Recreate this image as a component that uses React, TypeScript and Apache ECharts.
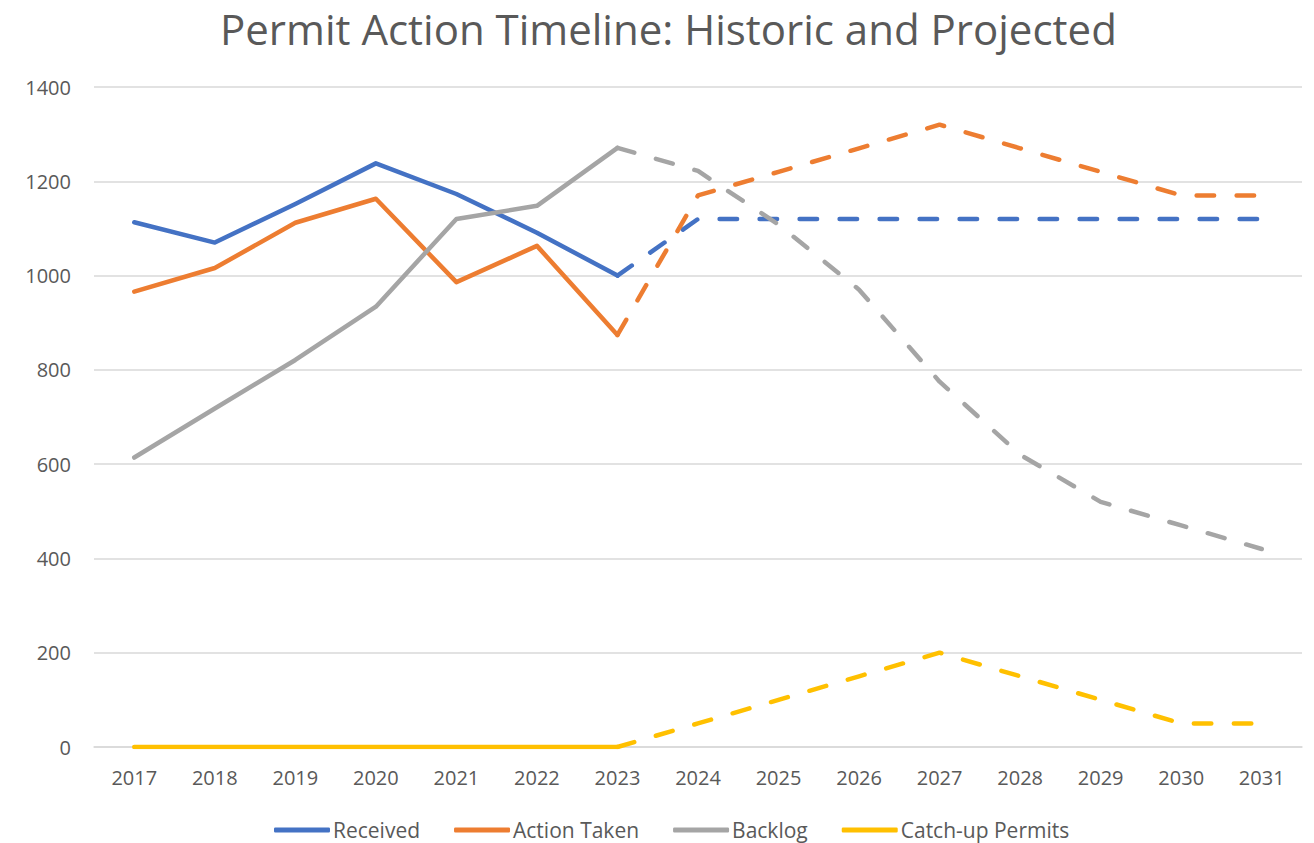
import React, { useEffect, useRef } from "react";
import * as echarts from "echarts";

const years = ["2017","2018","2019","2020","2021","2022","2023","2024","2025","2026","2027","2028","2029","2030","2031"];

// Historic values 2017-2023
const receivedHist = [1113, 1070, 1152, 1238, 1173, 1091, 1000];
const actionHist = [966, 1016, 1112, 1163, 986, 1063, 874];
const backlogHist = [614, 718, 821, 934, 1120, 1148, 1271];
const catchupHist = [0, 0, 0, 0, 0, 0, 0];

// Projected values 2023-2031
const receivedProj = [1000, 1120, 1120, 1120, 1120, 1120, 1120, 1120, 1120];
const actionProj = [874, 1170, 1220, 1270, 1320, 1270, 1220, 1170, 1170];
const backlogProj = [1271, 1222, 1108, 970, 775, 620, 520, 470, 420];
const catchupProj = [0, 50, 100, 150, 200, 150, 100, 50, 50];

const yTicks = [0, 200, 400, 600, 800, 1000, 1200, 1400];

const names = ["Received", "Action Taken", "Backlog", "Catch-up Permits"];
const colors = ["#4472C4", "#ED7D31", "#A5A5A5", "#FFC000"];

const FONT = "'Open Sans', 'Noto Sans', sans-serif";
const TEXT = "#595959";

function padHist(a: number[]) {
  return years.map((_, i) => (i < a.length ? a[i] : null));
}
function padProj(a: number[]) {
  const start = years.length - a.length;
  return years.map((_, i) => (i >= start ? a[i - start] : null));
}

export default function App() {
  const ref = useRef<HTMLDivElement>(null);
  useEffect(() => {
    if (!ref.current) return;
    const chart = echarts.init(ref.current, undefined, { renderer: "svg" });
    const hist = [receivedHist, actionHist, backlogHist, catchupHist];
    const proj = [receivedProj, actionProj, backlogProj, catchupProj];
    const series: any[] = [];
    hist.forEach((h, i) => {
      series.push({
        name: names[i],
        type: "line",
        data: padHist(h),
        symbol: "none",
        showSymbol: false,
        color: colors[i],
        lineStyle: { width: 4.5, color: colors[i], cap: "round", join: "round" },
        z: 2 + i,
      });
    });
    proj.forEach((p, i) => {
      series.push({
        name: names[i] + " (Projected)",
        type: "line",
        data: padProj(p),
        symbol: "none",
        showSymbol: false,
        color: colors[i],
        lineStyle: {
          width: 4.5,
          color: colors[i],
          type: [17.5, 22.5],
          cap: "round",
          join: "round",
        },
        z: 2 + i,
      });
    });
    chart.setOption({
      animation: false,
      backgroundColor: "#ffffff",
      title: {
        text: "Permit Action Timeline: Historic and Projected",
        left: 220,
        top: 5,
        padding: 0,
        textStyle: {
          fontFamily: FONT,
          fontSize: 42,
          lineHeight: 46,
          fontWeight: "normal",
          color: TEXT,
        },
      },
      legend: {
        data: names.map((n, i) => ({ name: n, itemStyle: { color: colors[i] } })),
        top: 817,
        left: 274,
        padding: 0,
        icon: "roundRect",
        itemWidth: 56,
        itemHeight: 5,
        itemGap: 34,
        textStyle: {
          fontFamily: FONT,
          fontSize: 21,
          lineHeight: 26,
          color: TEXT,
          padding: [0, 0, 0, -2],
        },
      },
      grid: { left: 94, right: 12, top: 87, bottom: 96, containLabel: false },
      xAxis: {
        type: "category",
        data: years,
        boundaryGap: true,
        axisLine: { show: true, lineStyle: { color: "#d9d9d9", width: 1.5 } },
        axisTick: { show: false },
        axisLabel: { fontFamily: FONT, fontSize: 20, color: TEXT, margin: 20 },
      },
      yAxis: {
        type: "value",
        min: yTicks[0],
        max: yTicks[yTicks.length - 1],
        interval: 200,
        axisLine: { show: false },
        axisTick: { show: false },
        axisLabel: {
          fontFamily: FONT,
          fontSize: 20,
          color: TEXT,
          margin: 23,
          formatter: (v: number) => String(v),
        },
        splitLine: { lineStyle: { color: "#d9d9d9", width: 1.5 } },
      },
      series,
    });
    return () => chart.dispose();
  }, []);
  return (
    <div
      ref={ref}
      style={{ position: "fixed", left: 0, top: 0, width: 1314, height: 843 }}
    />
  );
}
